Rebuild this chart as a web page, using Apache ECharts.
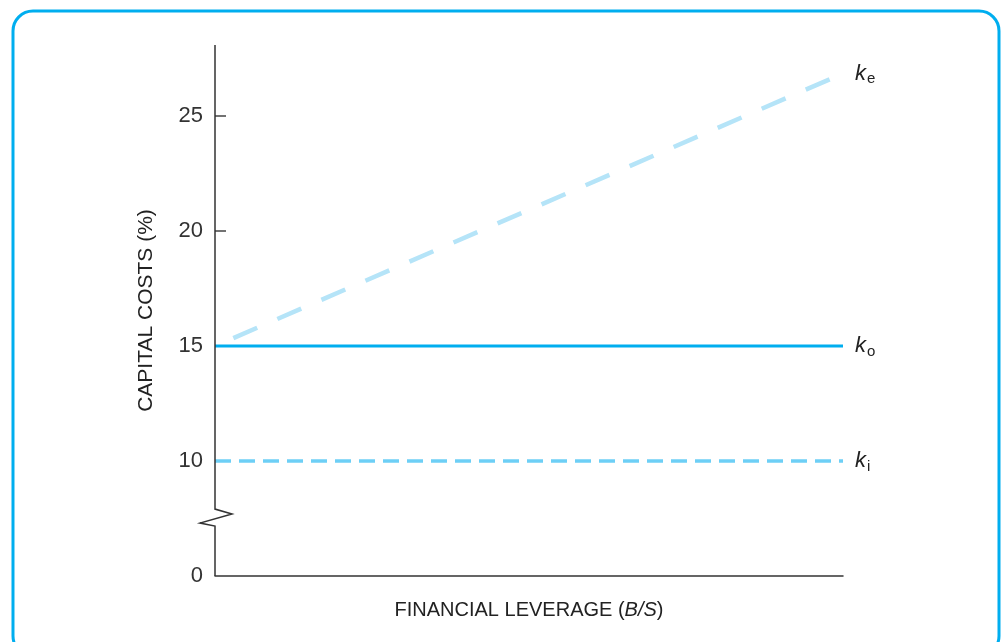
<!DOCTYPE html>
<html>
<head>
<meta charset="utf-8">
<script src="https://cdn.jsdelivr.net/npm/echarts@6/dist/echarts.min.js"></script>
<style>html,body{margin:0;padding:0;background:#fff;}#c{width:1002px;height:642px;}</style>
</head>
<body>
<div id="c"></div>
<script>
// Data
var xRange = [0, 1];                 // financial leverage (B/S), unitless span
var keValues = [[0, 15], [1, 26.85]]; // cost of equity
var koValues = [[0, 15], [1, 15]];    // overall cost of capital
var kiValues = [[0, 10], [1, 10]];    // cost of debt
var yTickValues = [10, 15, 20, 25];
var yLabelValues = [5, 10, 15, 20, 25];
var yTickLabels = { 5: '0', 10: '10', 15: '15', 20: '20', 25: '25' }; // 5 = broken-axis position of 0
var seriesNames = ['e', 'o', 'i'];

var FONT = '"Liberation Sans", Arial, sans-serif';
var chart = echarts.init(document.getElementById('c'));

function endLab(sub) {
  return {
    show: true,
    distance: 12,
    formatter: function () { return '{k|k}{s|' + sub + '}'; },
    rich: {
      k: { fontFamily: FONT, fontStyle: 'italic', fontSize: 22, color: '#222' },
      s: { fontFamily: FONT, fontSize: 15, color: '#222', verticalAlign: 'bottom', padding: [11, 0, 0, 1] }
    }
  };
}

var option = {
  animation: false,
  grid: { left: 215, right: 159, top: 45, bottom: 66 },
  xAxis: {
    type: 'value', min: xRange[0], max: xRange[1],
    name: '{n|FINANCIAL LEVERAGE (}{i|B/S}{n|)}',
    nameLocation: 'middle', nameGap: 24,
    nameTextStyle: {
      rich: {
        n: { fontFamily: FONT, fontSize: 20, color: '#222' },
        i: { fontFamily: FONT, fontSize: 20, color: '#222', fontStyle: 'italic' }
      }
    },
    axisLine: { show: true, lineStyle: { color: '#333', width: 1.5 } },
    axisTick: { show: false }, axisLabel: { show: false }, splitLine: { show: false }
  },
  yAxis: {
    type: 'value', min: 5, max: 28.09, interval: 5,
    name: 'CAPITAL COSTS (%)', nameLocation: 'middle', nameGap: 58,
    nameTextStyle: { fontFamily: FONT, fontSize: 21, color: '#222' },
    axisLine: { show: false },
    axisTick: { show: true, inside: true, length: 11, customValues: yTickValues, lineStyle: { color: '#444', width: 1.5 } },
    axisLabel: {
      fontFamily: FONT, fontSize: 22, color: '#333', margin: 12, customValues: yLabelValues,
      formatter: function (v) { return yTickLabels[v] !== undefined ? yTickLabels[v] : ''; }
    },
    splitLine: { show: false }
  },
  series: [
    { name: 'ke', type: 'line', data: keValues, symbol: 'none', z: 3,
      lineStyle: { color: '#b5e4f8', width: 4.5, type: [26, 22], dashOffset: 28, cap: 'butt' },
      endLabel: endLab(seriesNames[0]) },
    { name: 'ko', type: 'line', data: koValues, symbol: 'none', z: 4,
      lineStyle: { color: '#00aeef', width: 3 },
      endLabel: endLab(seriesNames[1]) },
    { name: 'ki', type: 'line', data: kiValues, symbol: 'none', z: 3,
      lineStyle: { color: '#6dcff6', width: 3.5, type: [16, 8] },
      endLabel: endLab(seriesNames[2]) }
  ]
};
chart.setOption(option);

// Broken y-axis line with zigzag, positioned through the axis scale
function px(v) { return chart.convertToPixel({ gridIndex: 0 }, [0, v]); }
var pTop = px(28.09), pA = px(7.91), pB = px(7.7), pC = px(7.3), pD = px(7.17), pBot = px(5);
chart.setOption({
  graphic: [
    { type: 'polyline', z: 10, shape: { points: [[pTop[0], pTop[1]], [pA[0], pA[1]], [pA[0] + 17, pB[1]], [pA[0] - 15, pC[1]], [pD[0], pD[1]], [pBot[0], pBot[1]]] },
      style: { stroke: '#333', lineWidth: 1.5, fill: null } },
    { type: 'rect', z: 0, silent: true, shape: { x: 13, y: 11, width: 986, height: 645, r: 20 },
      style: { stroke: '#00aeef', lineWidth: 3, fill: null } }
  ]
});
</script>
</body>
</html>
